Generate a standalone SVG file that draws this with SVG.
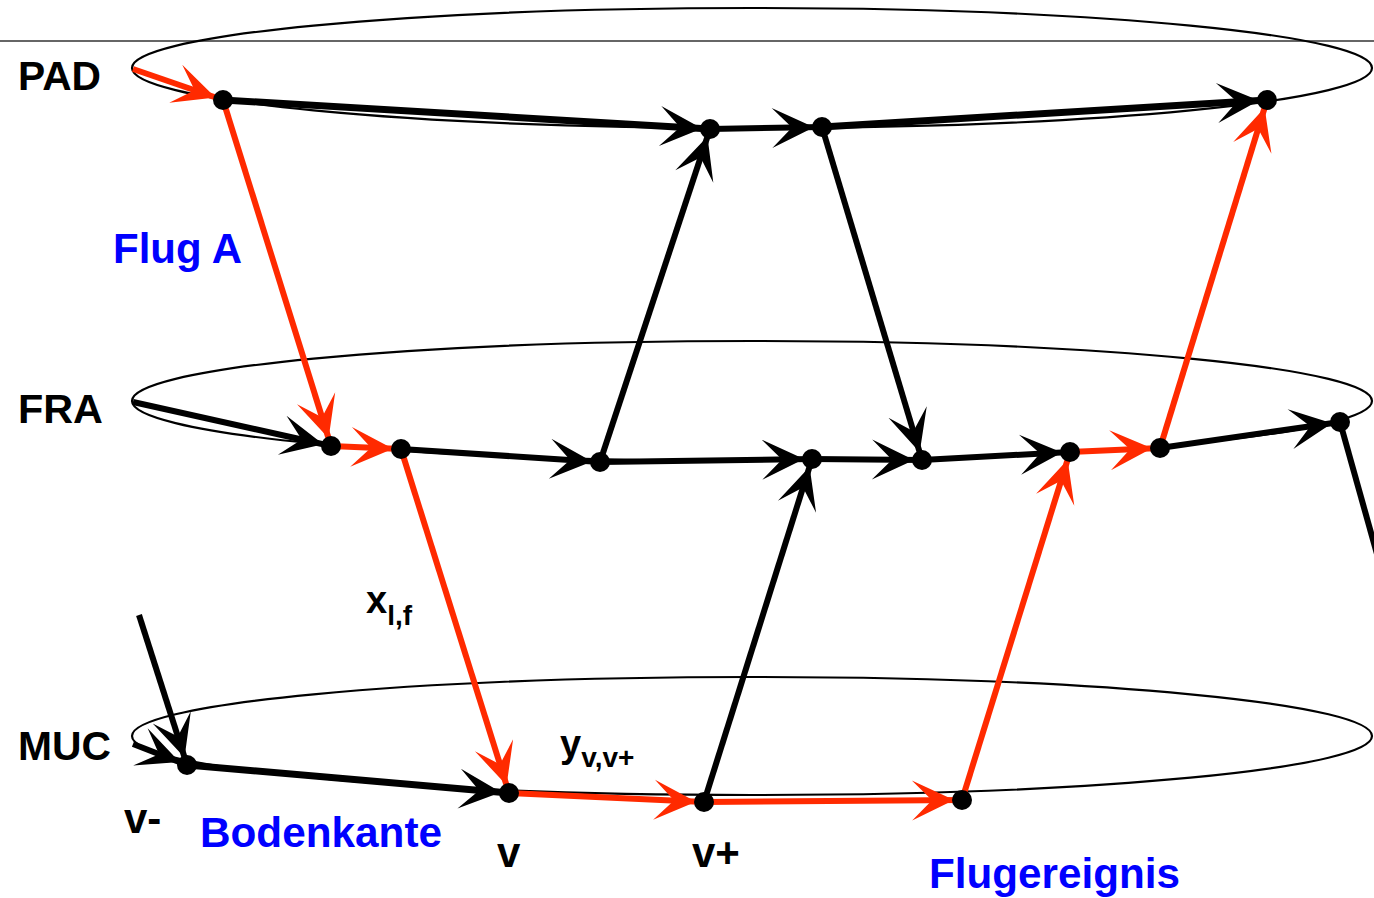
<svg xmlns="http://www.w3.org/2000/svg" width="1374" height="898" viewBox="0 0 1374 898">
<style>
.ell{fill:none;stroke:#000;stroke-width:2.2}
.bk{stroke:#000;stroke-width:6;fill:none;marker-end:url(#ab)}
.bkn{stroke:#000;stroke-width:6;fill:none}
.rd{stroke:#ff2a00;stroke-width:6;fill:none;marker-end:url(#ar)}
.dot{fill:#000}
.lbl{font-family:"Liberation Sans",Arial,sans-serif;font-weight:bold;font-size:40px;fill:#000}
.vl{font-size:42px}
.blue{font-family:"Liberation Sans",Arial,sans-serif;font-weight:bold;font-size:42px;fill:#0000ff}
</style>
<defs>
<marker id="ab" markerUnits="userSpaceOnUse" viewBox="-50 -25 65 50" markerWidth="65" markerHeight="50" refX="8" refY="0" orient="auto" overflow="visible">
<path d="M0,0 L-42,-20 L-22,0 L-42,20 Z" fill="#000"/>
</marker>
<marker id="ar" markerUnits="userSpaceOnUse" viewBox="-50 -25 65 50" markerWidth="65" markerHeight="50" refX="8" refY="0" orient="auto" overflow="visible">
<path d="M0,0 L-42,-20 L-22,0 L-42,20 Z" fill="#ff2a00"/>
</marker>
</defs>
<rect width="1374" height="898" fill="#fff"/>
<line x1="0" y1="41" x2="1374" y2="41" stroke="#333" stroke-width="1.6"/>

<g id="airport-PAD">
<ellipse class="ell" cx="752" cy="68" rx="620" ry="60"/>
<text class="lbl" x="18" y="90" textLength="83" lengthAdjust="spacingAndGlyphs">PAD</text>
</g>
<g id="airport-FRA">
<ellipse class="ell" cx="752" cy="401" rx="620" ry="60"/>
<text class="lbl" x="18" y="423" textLength="85" lengthAdjust="spacingAndGlyphs">FRA</text>
</g>
<g id="airport-MUC">
<ellipse class="ell" cx="752" cy="736" rx="620" ry="59"/>
<text class="lbl" x="18" y="760" textLength="93" lengthAdjust="spacingAndGlyphs">MUC</text>
</g>

<g id="connectors">
<line class="rd" x1="133" y1="69" x2="223" y2="100"/>
<line class="bk" x1="223" y1="100" x2="710" y2="129" style="stroke-width:7"/>
<line class="bk" x1="710" y1="129" x2="822" y2="127"/>
<line class="bk" x1="822" y1="127" x2="1267" y2="100" style="stroke-width:7"/>
<line class="rd" x1="223" y1="100" x2="331" y2="446"/>
<line class="bk" x1="133" y1="402" x2="331" y2="446"/>
<line class="rd" x1="331" y1="446" x2="401" y2="449"/>
<line class="bk" x1="401" y1="449" x2="600" y2="462"/>
<line class="rd" x1="401" y1="449" x2="509" y2="793"/>
<line class="bk" x1="600" y1="462" x2="710" y2="129"/>
<line class="bk" x1="600" y1="462" x2="812" y2="459"/>
<line class="bk" x1="812" y1="459" x2="922" y2="460"/>
<line class="bk" x1="822" y1="127" x2="922" y2="460"/>
<line class="bk" x1="922" y1="460" x2="1070" y2="452"/>
<line class="rd" x1="1070" y1="452" x2="1160" y2="448"/>
<line class="rd" x1="1160" y1="448" x2="1267" y2="100"/>
<line class="bk" x1="1160" y1="448" x2="1340" y2="422"/>
<line class="bkn" x1="1340" y1="422" x2="1382" y2="572"/>
<line class="bk" x1="139" y1="615" x2="187" y2="765"/>
<line class="bk" x1="133" y1="744" x2="187" y2="765"/>
<line class="bk" x1="187" y1="765" x2="509" y2="793" style="stroke-width:7"/>
<line class="rd" x1="509" y1="793" x2="704" y2="802"/>
<line class="bk" x1="704" y1="802" x2="812" y2="459"/>
<line class="rd" x1="704" y1="802" x2="962" y2="800"/>
<line class="rd" x1="962" y1="800" x2="1070" y2="452"/>
</g>

<g id="node-pad1"><circle class="dot" cx="223" cy="100" r="10"/></g>
<g id="node-pad2"><circle class="dot" cx="710" cy="129" r="10"/></g>
<g id="node-pad3"><circle class="dot" cx="822" cy="127" r="10"/></g>
<g id="node-pad4"><circle class="dot" cx="1267" cy="100" r="10"/></g>
<g id="node-fra1"><circle class="dot" cx="331" cy="446" r="10"/></g>
<g id="node-fra2"><circle class="dot" cx="401" cy="449" r="10"/></g>
<g id="node-fra3"><circle class="dot" cx="600" cy="462" r="10"/></g>
<g id="node-fra4"><circle class="dot" cx="812" cy="459" r="10"/></g>
<g id="node-fra5"><circle class="dot" cx="922" cy="460" r="10"/></g>
<g id="node-fra6"><circle class="dot" cx="1070" cy="452" r="10"/></g>
<g id="node-fra7"><circle class="dot" cx="1160" cy="448" r="10"/></g>
<g id="node-fra8"><circle class="dot" cx="1340" cy="422" r="10"/></g>
<g id="node-muc1"><circle class="dot" cx="187" cy="765" r="10"/></g>
<g id="node-muc2"><circle class="dot" cx="509" cy="793" r="10"/></g>
<g id="node-muc3"><circle class="dot" cx="704" cy="802" r="10"/></g>
<g id="node-muc4"><circle class="dot" cx="962" cy="800" r="10"/></g>

<g id="labels">
<text class="blue" x="113" y="263" textLength="129" lengthAdjust="spacingAndGlyphs">Flug A</text>
<text class="lbl" x="366" y="613" style="font-size:38px">x<tspan dy="12" style="font-size:28px">l,f</tspan></text>
<text class="lbl" x="560" y="757" style="font-size:38px">y<tspan dy="10" style="font-size:28px">v,v+</tspan></text>
<text class="lbl vl" x="124" y="833">v-</text>
<text class="blue" x="200" y="847" textLength="242" lengthAdjust="spacingAndGlyphs">Bodenkante</text>
<text class="lbl vl" x="497" y="867">v</text>
<text class="lbl vl" x="692" y="867">v+</text>
<text class="blue" x="929" y="888" textLength="251" lengthAdjust="spacingAndGlyphs">Flugereignis</text>
</g>
</svg>
